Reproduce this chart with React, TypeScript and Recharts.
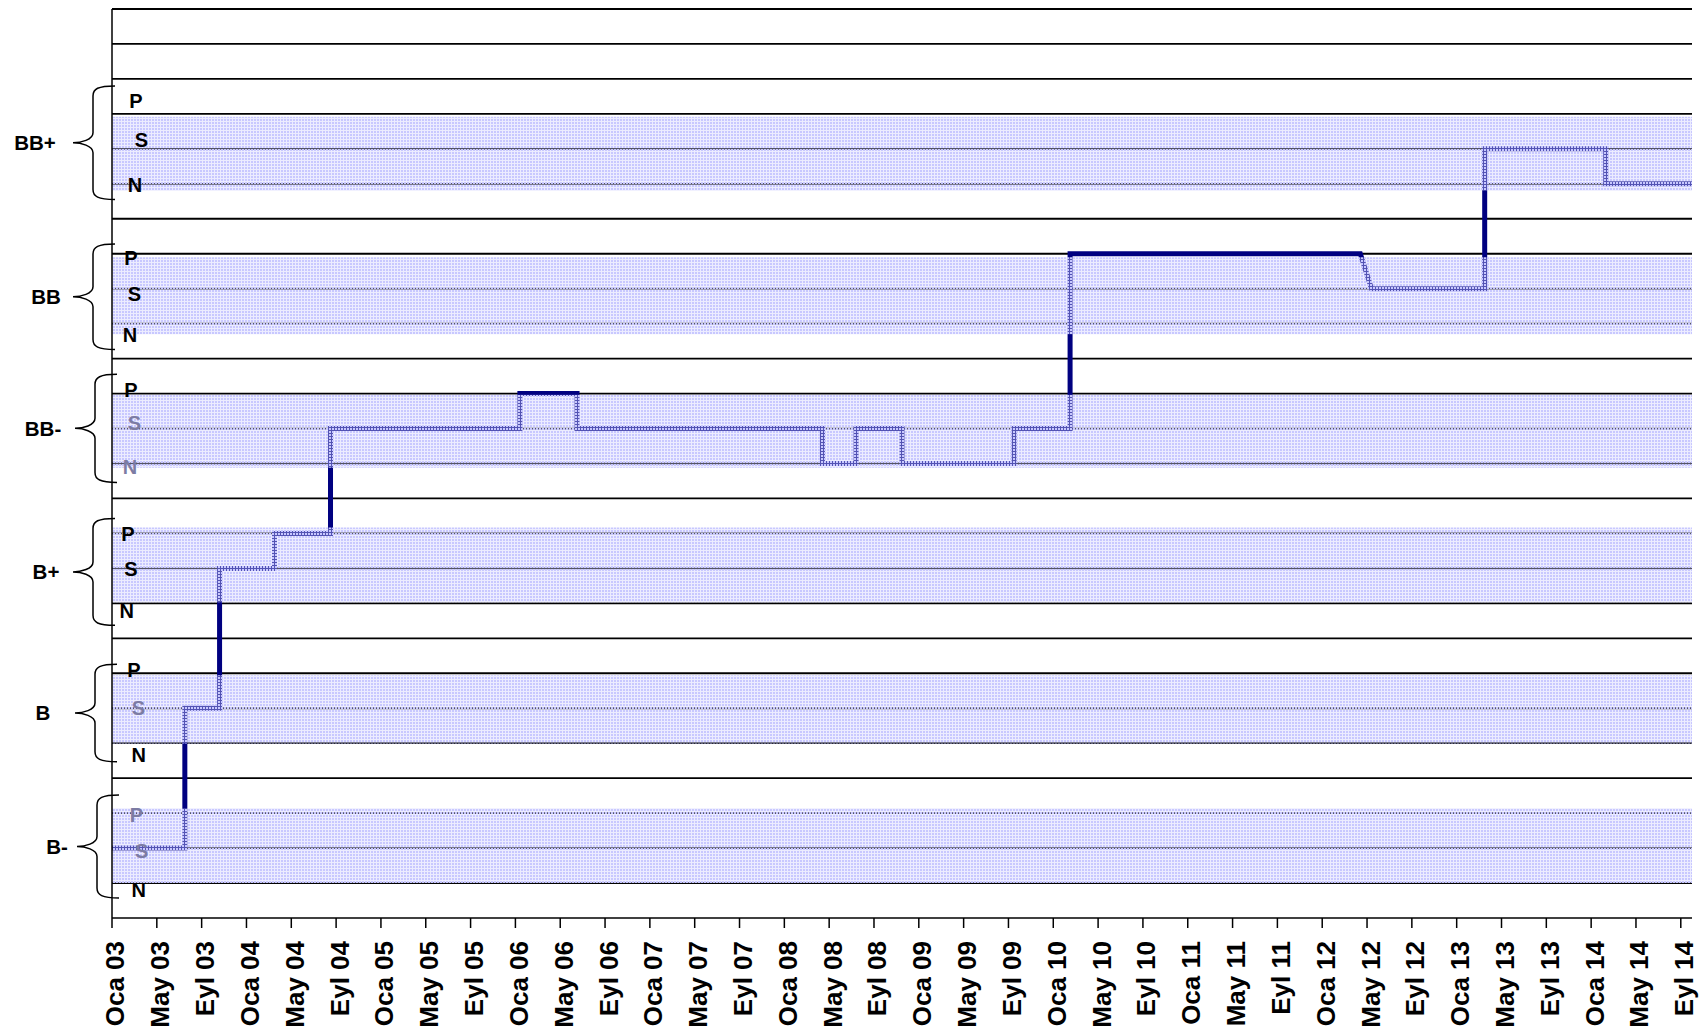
import React from "react";
import { LineChart, Line, XAxis, YAxis, ReferenceLine, ReferenceArea } from "recharts";

// months counted from Oca 03 (Jan 2003 = 0)
const months = [
  0, 6.5, 6.5, 9.6, 9.6, 14.5, 14.5, 19.5, 19.5, 36.4,
  36.4, 41.5, 41.5, 63.4, 63.4, 66.4, 66.4, 70.5, 70.5, 80.5,
  80.5, 85.5, 85.5, 111.4, 112.4, 122.5, 122.5, 133.3, 133.3, 141,
];
const ratings = [
  "B- S", "B- S", "B S", "B S", "B+ S", "B+ S", "B+ P", "B+ P", "BB- S", "BB- S",
  "BB- P", "BB- P", "BB- S", "BB- S", "BB- N", "BB- N", "BB- S", "BB- S", "BB- N", "BB- N",
  "BB- S", "BB- S", "BB P", "BB P", "BB S", "BB S", "BB+ S", "BB+ S", "BB+ N", "BB+ N",
];

const notches = ["B-", "B", "B+", "BB-", "BB", "BB+"];
const outlooks = ["N", "S", "P"];

const tickMonths = [
  0, 4, 8, 12, 16, 20, 24, 28, 32, 36, 40, 44, 48, 52, 56, 60, 64, 68,
  72, 76, 80, 84, 88, 92, 96, 100, 104, 108, 112, 116, 120, 124, 128, 132, 136, 140,
];
const tickLabels = [
  "Oca 03", "May 03", "Eyl 03", "Oca 04", "May 04", "Eyl 04", "Oca 05", "May 05", "Eyl 05",
  "Oca 06", "May 06", "Eyl 06", "Oca 07", "May 07", "Eyl 07", "Oca 08", "May 08", "Eyl 08",
  "Oca 09", "May 09", "Eyl 09", "Oca 10", "May 10", "Eyl 10", "Oca 11", "May 11", "Eyl 11",
  "Oca 12", "May 12", "Eyl 12", "Oca 13", "May 13", "Eyl 13", "Oca 14", "May 14", "Eyl 14",
];

// one rule per step of the scale (0 is the x axis itself)
const gridLevels = [1, 2, 3, 4, 5, 6, 7, 8, 9, 10, 11, 12, 13, 14, 15, 16, 17, 18, 19, 20, 21, 22, 23, 24, 25, 26];

// shaded bands and braces, per notch (B- .. BB+), in scale units
const bandRanges = [[1.0, 3.14], [4.99, 6.94], [9.03, 11.17], [12.88, 14.97], [16.7, 18.9], [20.8, 22.92]];
const braceRanges = [[0.57, 3.52], [4.47, 7.26], [8.37, 11.43], [12.46, 15.55], [16.26, 19.28], [20.55, 23.8]];

// P / S / N letters next to the axis
const letterLevels = [1, 2, 3, 5, 6, 7, 9, 10, 11, 13, 14, 15, 17, 18, 19, 21, 22, 23];

// layout tweaks (pixels)
const labelDx = [-55, -69, -66, -69, -66, -77];
const braceDx = [4, 2, 0, 2, 0, 0];
const letterDx = [26.7, 29.7, 24.5, 26.7, 26.3, 22, 14.7, 19, 16, 18, 22.5, 19, 18, 22.5, 19, 23, 29.5, 24];
const letterDy = [7, 3, 2, 12, 0, -3, 7, 0, 0, 3, -6, -4, 11, 5, 4.5, 1, -9, -13];
const letterFaded = [false, true, true, false, true, false, false, false, false, true, true, false, false, false, false, false, false, false];

const toLevel = (r: string) => {
  const [n, o] = r.split(" ");
  return notches.indexOf(n) * 4 + outlooks.indexOf(o) + 1;
};

const points = months.map((m, i) => ({ m, level: toLevel(ratings[i]) }));

const FONT = "'Liberation Sans', Arial, sans-serif";

const Brace = (props: any) => {
  const { x, y, height, label, dxLabel, shift } = props;
  const left = x + shift;
  const top = y;
  const bottom = y + height;
  const mid = y + height / 2;
  const xe = left + 3;
  const xv = left - 19;
  const xt = left - 39;
  const r = 10;
  const d =
    `M${xe},${top} C${xv + 5},${top} ${xv},${top + 3} ${xv},${top + r} ` +
    `L${xv},${mid - r} C${xv},${mid - 3} ${xt + 8},${mid} ${xt},${mid} ` +
    `C${xt + 8},${mid} ${xv},${mid + 3} ${xv},${mid + r} ` +
    `L${xv},${bottom - r} C${xv},${bottom - 3} ${xv + 5},${bottom} ${xe},${bottom}`;
  return (
    <g>
      <path d={d} fill="none" stroke="#000" strokeWidth={1.5} />
      <text x={x + dxLabel} y={mid} dy="0.36em" textAnchor="middle" fontFamily={FONT} fontWeight="bold" fontSize={20.5} fill="#000">
        {label}
      </text>
    </g>
  );
};

const LetterTick = (props: any) => {
  const { x, y, payload } = props;
  const i = letterLevels.indexOf(payload.value);
  if (i < 0) return null;
  const letter = outlooks[(payload.value - 1) % 4];
  return (
    <text
      x={x + letterDx[i]}
      y={y + letterDy[i]}
      dy="0.36em"
      textAnchor="middle"
      fontFamily={FONT}
      fontWeight="bold"
      fontSize={20}
      fill={letterFaded[i] ? "#7c7ca4" : "#000"}
    >
      {letter}
    </text>
  );
};

const MonthTick = (props: any) => {
  const { x, y, payload } = props;
  const label = tickLabels[tickMonths.indexOf(payload.value)];
  return (
    <g transform={`translate(${x},${y})`}>
      <text transform="rotate(-90)" textAnchor="end" dy="0.48em" fontFamily={FONT} fontWeight="bold" fontSize={26} fill="#000">
        {label}
      </text>
    </g>
  );
};

export default function App() {
  return (
    <div>
      <style>{"html,body{overflow:hidden}"}</style>
      <LineChart width={1699} height={1026} data={points} margin={{ top: 1, right: 15, bottom: 0, left: 0 }}>
        <defs>
          <pattern id="bandFill" width="3" height="3" patternUnits="userSpaceOnUse">
            <rect width="3" height="3" fill="#d0d0ff" fillOpacity={0.4} />
            <rect width="2" height="2" fill="#c8c8ff" />
          </pattern>
        </defs>
        {gridLevels.map((l) => (
          <ReferenceLine key={`g${l}`} y={l} stroke="#000" strokeWidth={1.8} zIndex={100} />
        ))}
        <Line
          dataKey="level"
          type="linear"
          stroke="#000080"
          strokeWidth={5}
          dot={false}
          activeDot={false}
          isAnimationActive={false}
          zIndex={400}
        />
        {bandRanges.map(([a, b], i) => (
          <ReferenceArea key={`b${i}`} y1={a} y2={b} fill="url(#bandFill)" fillOpacity={1} stroke="none" zIndex={450} />
        ))}
        {braceRanges.map(([a, b], i) => (
          <ReferenceArea
            key={`br${i}`}
            y1={a}
            y2={b}
            zIndex={460}
            shape={(p: any) => <Brace {...p} label={notches[i]} dxLabel={labelDx[i]} shift={braceDx[i]} />}
          />
        ))}
        <XAxis
          dataKey="m"
          type="number"
          domain={[0, 141]}
          ticks={tickMonths}
          interval={0}
          height={116}
          tickSize={10}
          tickMargin={13}
          tick={<MonthTick />}
          axisLine={{ stroke: "#000", strokeWidth: 1.5 }}
          tickLine={{ stroke: "#000", strokeWidth: 1.5 }}
        />
        <YAxis
          type="number"
          domain={[0, 26]}
          ticks={letterLevels}
          interval={0}
          width={104}
          tickSize={0}
          tickMargin={0}
          tickLine={false}
          tick={<LetterTick />}
          axisLine={{ stroke: "#000", strokeWidth: 1.5 }}
        />
      </LineChart>
    </div>
  );
}
